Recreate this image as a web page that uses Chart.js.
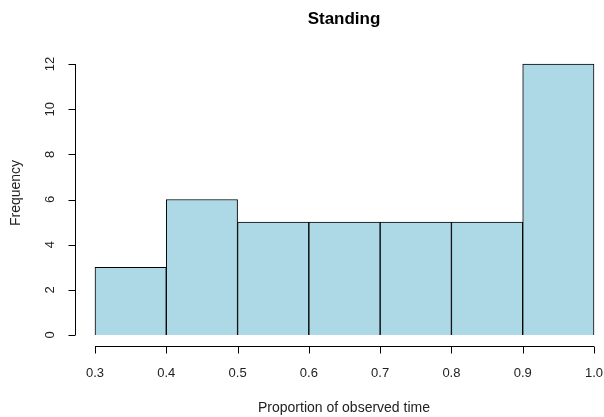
<!DOCTYPE html>
<html>
<head>
<meta charset="utf-8">
<script src="https://cdn.jsdelivr.net/npm/chart.js@4.4.0/dist/chart.umd.min.js"></script>
<style>
  html, body { margin: 0; padding: 0; background: #fff; }
  #wrap { width: 604px; height: 417px; }
</style>
</head>
<body>
<div id="wrap"><canvas id="hist"></canvas></div>
<script>
// histogram bins (left edges / right edges) and counts
const binStarts = [0.3, 0.4, 0.5, 0.6, 0.7, 0.8, 0.9];
const binEnds = [0.4, 0.5, 0.6, 0.7, 0.8, 0.9, 1.0];
const counts = [3, 6, 5, 5, 5, 5, 12];
const xTicks = [0.3, 0.4, 0.5, 0.6, 0.7, 0.8, 0.9, 1.0];
const yTicks = [0, 2, 4, 6, 8, 10, 12];

const titleText = 'Standing';
const xLabel = 'Proportion of observed time';
const yLabel = 'Frequency';

const FONT = '"Liberation Sans", Arial, sans-serif';

// R style detached axes, drawn from chart scales
const rAxes = {
  id: 'rAxes',
  afterDraw(chart) {
    const ctx = chart.ctx;
    const xs = chart.scales.x, ys = chart.scales.y;
    const area = chart.chartArea;
    ctx.save();
    ctx.strokeStyle = '#000';
    ctx.fillStyle = '#000';
    ctx.lineWidth = 1;

    // x axis
    const axY = area.bottom + 11.5;
    ctx.beginPath();
    ctx.moveTo(xs.getPixelForValue(xTicks[0]), axY);
    ctx.lineTo(xs.getPixelForValue(xTicks[xTicks.length - 1]), axY);
    xTicks.forEach(t => {
      const px = Math.round(xs.getPixelForValue(t)) + 0.5;
      ctx.moveTo(px, axY);
      ctx.lineTo(px, axY + 7);
    });
    ctx.stroke();
    ctx.font = '13px ' + FONT;
    ctx.textAlign = 'center';
    ctx.textBaseline = 'middle';
    ctx.fillStyle = '#222';
    xTicks.forEach(t => {
      ctx.fillText(t.toFixed(1), xs.getPixelForValue(t), axY + 27);
    });

    // y axis
    const axX = area.left - 19.5;
    ctx.beginPath();
    ctx.moveTo(axX, ys.getPixelForValue(yTicks[0]));
    ctx.lineTo(axX, ys.getPixelForValue(yTicks[yTicks.length - 1]));
    yTicks.forEach(t => {
      const py = Math.round(ys.getPixelForValue(t)) + 0.5;
      ctx.moveTo(axX, py);
      ctx.lineTo(axX - 7, py);
    });
    ctx.stroke();
    yTicks.forEach(t => {
      ctx.save();
      ctx.translate(axX - 25, ys.getPixelForValue(t));
      ctx.rotate(-Math.PI / 2);
      ctx.fillText(String(t), 0, 0);
      ctx.restore();
    });

    // axis titles
    ctx.font = '14px ' + FONT;
    ctx.fillText(xLabel, 344, 408);
    ctx.save();
    ctx.translate(16, 193);
    ctx.rotate(-Math.PI / 2);
    ctx.fillText(yLabel, 0, 0);
    ctx.restore();

    // main title
    ctx.fillStyle = '#000';
    ctx.font = 'bold 17px ' + FONT;
    ctx.fillText(titleText, 344, 19);
    ctx.restore();
  }
};

const barData = binStarts.map((s, i) => ({ x: (s + binEnds[i]) / 2, y: counts[i] }));

new Chart(document.getElementById('hist'), {
  type: 'bar',
  data: {
    datasets: [{
      data: barData,
      backgroundColor: '#ADD8E6',
      borderColor: '#000',
      borderWidth: 1,
      barPercentage: 1,
      categoryPercentage: 1,
      clip: false
    }]
  },
  options: {
    responsive: true,
    maintainAspectRatio: false,
    animation: false,
    events: [],
    layout: { padding: { left: 95, right: 10, top: 64, bottom: 82 } },
    plugins: { legend: { display: false }, title: { display: false }, tooltip: { enabled: false } },
    scales: {
      x: { type: 'linear', min: 0.3, max: 1.0, offset: false, display: false },
      y: { type: 'linear', min: 0, max: 12, display: false }
    }
  },
  plugins: [rAxes]
});
</script>
</body>
</html>
